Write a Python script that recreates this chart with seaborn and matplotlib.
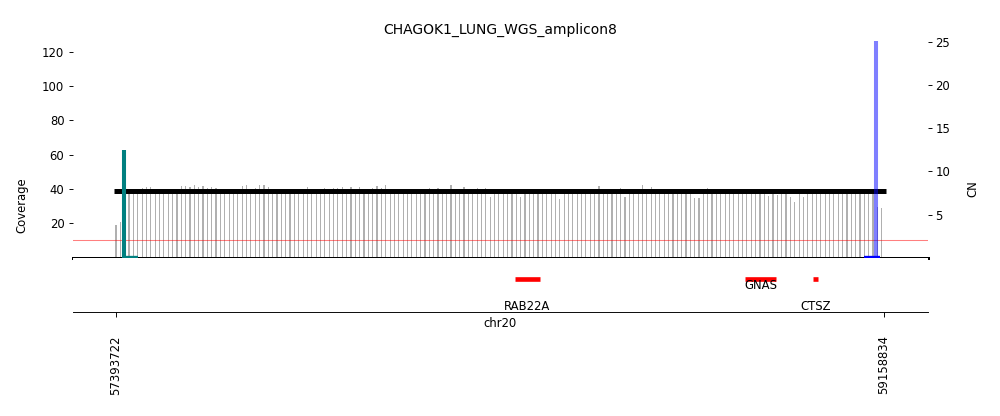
import numpy as np
import matplotlib
matplotlib.use("Agg")
import matplotlib.pyplot as plt
import seaborn as sns

# amplicon interval and labels
title = "CHAGOK1_LUNG_WGS_amplicon8"
chrom = "chr20"
amp_start = 57393722
amp_end = 59158834
bin_size = 10000

# read depth per 10 kb window
coverage = [
    19.0, 20.5, 38.5, 39.8, 40.0, 40.0, 40.5, 41.0, 41.0, 38.6,
    38.8, 40.0, 38.2, 38.7, 38.4, 41.5, 41.5, 41.0, 42.0, 41.2,
    41.5, 40.5, 41.0, 40.5, 38.9, 38.6, 38.5, 39.7, 39.7, 41.6,
    42.4, 39.7, 40.3, 42.4, 42.0, 40.9, 38.7, 38.4, 38.8, 39.7,
    38.6, 39.7, 39.7, 38.9, 40.9, 39.7, 39.7, 38.5, 40.3, 38.8,
    40.3, 40.3, 40.9, 38.6, 41.2, 39.7, 40.9, 38.5, 38.9, 40.3,
    41.6, 40.3, 42.0, 39.7, 38.6, 39.7, 39.7, 39.7, 38.8, 38.3,
    38.7, 38.9, 40.3, 38.5, 40.3, 39.7, 38.8, 42.4, 38.6, 39.7,
    41.2, 38.7, 38.4, 40.3, 38.9, 40.3, 35.4, 39.7, 38.5, 38.7,
    38.4, 38.8, 38.6, 35.4, 38.5, 38.9, 38.3, 38.7, 38.6, 39.7,
    38.5, 38.8, 34.3, 38.6, 39.7, 38.4, 39.7, 39.7, 38.7, 38.5,
    38.9, 41.6, 38.6, 38.4, 38.8, 38.5, 40.3, 35.4, 38.7, 39.7,
    38.5, 42.2, 39.7, 40.9, 38.6, 38.8, 38.4, 38.7, 38.5, 38.9,
    38.6, 39.7, 38.4, 34.8, 34.8, 38.7, 40.3, 39.7, 38.5, 39.7,
    38.6, 38.8, 39.7, 38.4, 39.7, 38.6, 38.7, 38.3, 38.5, 38.8,
    36.0, 38.4, 36.2, 38.6, 38.5, 35.5, 32.5, 38.3, 35.0, 37.8,
    38.4, 37.9, 38.6, 38.2, 37.6, 38.5, 38.1, 37.8, 38.4, 38.0,
    38.6, 38.2, 37.9, 39.5, 38.5, 29.6, 28.8,
]
bin_pos = amp_start + bin_size * np.arange(len(coverage))

# copy number segment
seg_start = 57389000
seg_end = 59163500
seg_cn = 7.72
baseline_cn = 2

# breakpoint ends
bp_pos = [57412100, 59140200]
bp_height = [12.5, 30.0]
bp_colors = ["teal", "blue"]
bp_alpha = [1.0, 0.5]
bp_foot_start = [57407500, 59112700]
bp_foot_end = [57444300, 59149500]

# genes (hg38)
gene_names = ["RAB22A", "GNAS", "CTSZ"]
gene_starts = [58309710, 58839718, 58995186]
gene_ends = [58367508, 58911192, 59007284]
gene_label_y = [0.03, 0.42, 0.03]

fig = plt.figure(figsize=(12, 4.992), dpi=1000 / 12)
ax = fig.add_axes([0.0725, 0.381, 0.855, 0.521])
ax_gene = fig.add_axes([0.0725, 0.25, 0.855, 0.131], sharex=ax)

# coverage bars
sns.barplot(x=bin_pos, y=coverage, native_scale=True, width=0.27,
            color="#b0b0b0", saturation=1, linewidth=0, ax=ax)
ax.set_xlim(amp_start - 100000, amp_end + 100000)
ax.set_ylim(0, 126.3)
ax.set_yticks([20, 40, 60, 80, 100, 120])
ax.set_ylabel("Coverage")
ax.yaxis.set_label_coords(-0.0515, 0.24)
ax.set_xlabel("")
ax.tick_params(axis="x", bottom=False, labelbottom=False)
for s in ["top", "left", "right"]:
    ax.spines[s].set_visible(False)
ax.spines["bottom"].set_linewidth(2.6)
ax.set_title(title)

# copy number axis
ax2 = ax.twinx()
ax2.set_ylim(0, 25.2)
ax2.set_yticks([5, 10, 15, 20, 25])
ax2.set_ylabel("CN")
ax2.yaxis.set_label_coords(1.046, 0.32)
for s in ax2.spines.values():
    s.set_visible(False)
ax2.axhline(baseline_cn, color="red", alpha=0.5, linewidth=0.9)
ax2.plot([seg_start, seg_end], [seg_cn, seg_cn], color="black",
         linewidth=4.3, solid_capstyle="butt")
for p, h, c, a, f0, f1 in zip(bp_pos, bp_height, bp_colors, bp_alpha,
                              bp_foot_start, bp_foot_end):
    ax2.plot([f0, f1], [0.1, 0.1], color=c, linewidth=2, solid_capstyle="butt")
    ax2.plot([p, p], [0, h], color=c, alpha=a, linewidth=3.5,
             solid_capstyle="butt")

# gene track
ax_gene.set_ylim(0, 1)
for name, gs, ge, ly in zip(gene_names, gene_starts, gene_ends, gene_label_y):
    ax_gene.plot([gs, ge], [0.6, 0.6], color="red", linewidth=4,
                 solid_capstyle="butt")
    ax_gene.text((gs + ge) / 2, ly, name, ha="center", va="baseline",
                 fontsize=10)
ax_gene.set_yticks([])
for s in ["top", "left", "right"]:
    ax_gene.spines[s].set_visible(False)
ax_gene.set_xticks([amp_start, amp_end])
ax_gene.set_xticklabels([str(amp_start), str(amp_end)], rotation=90)
ax_gene.tick_params(axis="x", length=4.3, pad=16)
ax_gene.text(0.5, -0.27, chrom, transform=ax_gene.transAxes,
             ha="center", va="baseline", fontsize=10)

fig.savefig("out.png", dpi=1000 / 12)
